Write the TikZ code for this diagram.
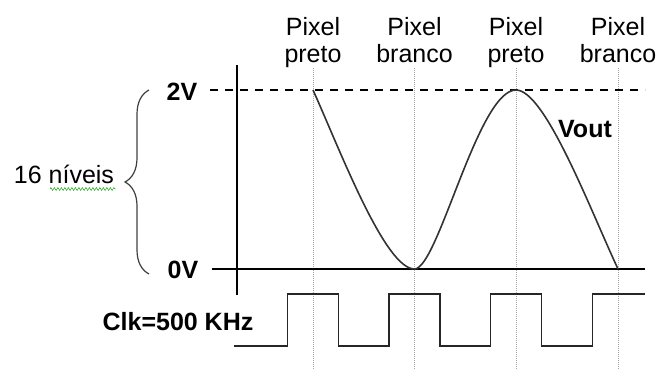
\documentclass[tikz,border=0pt]{standalone}
\usepackage{fontspec}
\setmainfont{Liberation Sans}
\usetikzlibrary{decorations.pathreplacing,decorations.pathmorphing}
\begin{document}
\begin{tikzpicture}
    [x=1pt, y=1pt,
     txt/.style={font=\fontsize{25}{27}\selectfont, inner sep=0pt, anchor=base},
     bold/.style={txt, font=\fontsize{25}{27}\selectfont\bfseries},
     guide/.style={draw=gray!70, densely dotted, line width=1pt},
     refline/.style={draw=black, line width=1.6pt},
     vout/.style={draw=black!80, line width=1.6pt},
     clock/.style={draw=black!85, line width=1.8pt}]
    \useasboundingbox (0,0) rectangle (662,-369);
    \foreach \x/\w [count=\i] in {313/preto, 414.5/branco, 516/preto, 618/branco} {
        \node[txt] (top\i) at (\x,-36) {Pixel};
        \node[txt] (bot\i) at (\x,-63) {\w};
        \draw[guide] (\x,-68) -- (\x,-369);
    }
    \draw[refline] (237,-65) -- (237,-295);
    \draw[refline] (212,-269) -- (645,-269);
    \draw[refline, line width=1.2pt, dash pattern=on 8pt off 7pt] (210,-90) -- (645,-90);
    \node[bold] (v2) at (182,-101) {2V};
    \node[bold] (v0) at (183,-278) {0V};
    \draw[decorate, decoration={brace, amplitude=24pt}, draw=black!75, line width=1.2pt]
        (149,-274) -- (149,-90);
    \node[txt] (lvl) at (64,-183) {16 níveis};
    \draw[green!60!black, decorate, decoration={zigzag, amplitude=1.5pt, segment length=3.5pt}]
        (50,-189) -- (116,-189);
    \draw[vout] (313,-90) .. controls (340,-150) and (385,-269) .. (414.5,-269)
        .. controls (438,-269) and (478,-90) .. (516,-90)
        .. controls (545,-90) and (590,-209) .. (618,-269);
    \node[bold] (out) at (585,-137) {Vout};
    \node[bold] (clk) at (178,-330) {Clk=500 KHz};
    \draw[clock] (234,-346) foreach \x in {313,414.5,516} {
        -- (\x-25.5,-346) -- (\x-25.5,-294) -- (\x+25.5,-294) -- (\x+25.5,-346)}
        -- (592.5,-346) -- (592.5,-294) -- (645,-294);
\end{tikzpicture}
\end{document}
